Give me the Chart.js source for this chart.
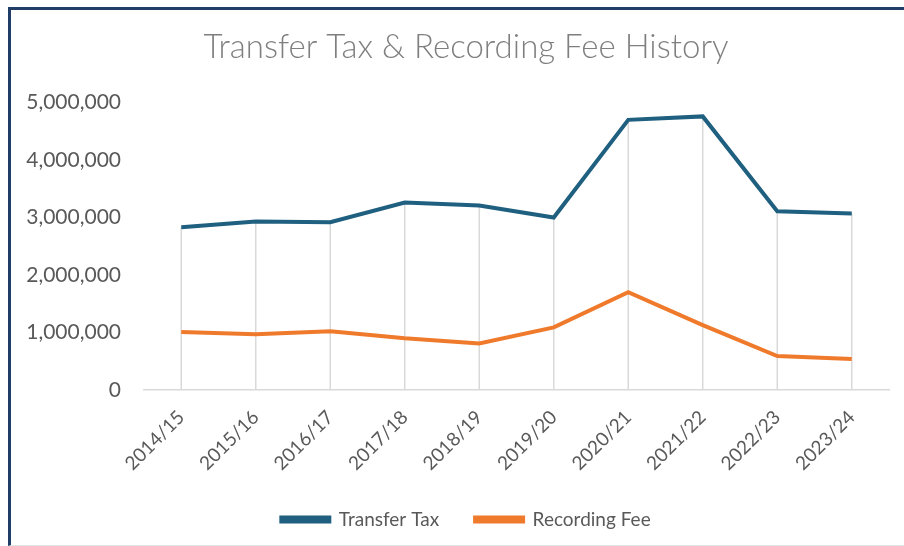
<!DOCTYPE html>
<html>
<head>
<meta charset="utf-8">
<script src="https://cdn.jsdelivr.net/npm/chart.js@4.4.0/dist/chart.umd.min.js"></script>
<style>
  html, body { margin: 0; padding: 0; background: #fff; overflow: hidden; }
  #frame {
    position: absolute; left: 8px; top: 7px;
    width: 896px; height: 539px;
    box-sizing: border-box;
    border-left: 3px solid #1f3d66;
    border-top: 3px solid #1f3d66;
    border-bottom: 1px solid #e4e4e4;
  }
  #wrap { position: absolute; left: 0; top: 0; width: 910px; height: 535px; }
</style>
</head>
<body>
<div id="frame"><div id="wrap"><canvas id="feeChart"></canvas></div></div>
<script>
const years = ['2014/15', '2015/16', '2016/17', '2017/18', '2018/19', '2019/20', '2020/21', '2021/22', '2022/23', '2023/24'];
const transferTax = [2830000, 2930000, 2920000, 3260000, 3210000, 3000000, 4700000, 4760000, 3110000, 3070000];
const recordingFee = [1010000, 970000, 1020000, 900000, 810000, 1090000, 1700000, 1130000, 590000, 540000];

const fontFamily = 'Lato, "Open Sans", sans-serif';
const textGray = '#595959';

// light vertical lines from the higher point of each year down to the axis
const dropLines = {
    id: 'dropLines',
    beforeDatasetsDraw(chart) {
        const ctx = chart.ctx;
        const x = chart.scales.x;
        const y = chart.scales.y;
        ctx.save();
        ctx.strokeStyle = '#d9d9d9';
        ctx.lineWidth = 1.5;
        years.forEach((yr, i) => {
            const top = Math.max(transferTax[i], recordingFee[i]);
            const px = x.getPixelForValue(i);
            ctx.beginPath();
            ctx.moveTo(px, y.getPixelForValue(top));
            ctx.lineTo(px, y.getPixelForValue(0));
            ctx.stroke();
        });
        ctx.restore();
    }
};

const ctx = document.getElementById('feeChart').getContext('2d');
const chart = new Chart(ctx, {
    type: 'line',
    data: {
        labels: years,
        datasets: [{
            label: 'Transfer Tax',
            data: transferTax,
            borderColor: '#1f5f7f',
            backgroundColor: '#1f5f7f',
            borderWidth: 4,
            pointRadius: 0,
            tension: 0
        }, {
            label: 'Recording Fee',
            data: recordingFee,
            borderColor: '#f07a2c',
            backgroundColor: '#f07a2c',
            borderWidth: 4,
            pointRadius: 0,
            tension: 0
        }]
    },
    options: {
        responsive: true,
        maintainAspectRatio: false,
        animation: false,
        layout: { padding: { left: 0, right: 0, top: 0, bottom: 6 } },
        plugins: {
            title: {
                display: true,
                text: 'Transfer Tax & Recording Fee History',
                color: '#7f7f7f',
                font: { family: fontFamily, size: 33, weight: '300' },
                padding: { top: 18, bottom: 35 }
            },
            legend: {
                position: 'bottom',
                labels: {
                    color: textGray,
                    font: { family: fontFamily, size: 19 },
                    boxWidth: 48,
                    boxHeight: 4,
                    padding: 36
                }
            },
            tooltip: { enabled: false }
        },
        scales: {
            x: {
                offset: true,
                grid: { display: false },
                border: { display: true, color: '#d9d9d9', width: 1.5 },
                ticks: {
                    color: textGray,
                    font: { family: fontFamily, size: 19 },
                    minRotation: 45,
                    maxRotation: 45,
                    padding: 8
                },
                afterFit(scale) { scale.height = 84; }
            },
            y: {
                min: 0,
                max: 5000000,
                grid: { display: false, drawTicks: false },
                border: { display: false },
                ticks: {
                    stepSize: 1000000,
                    color: textGray,
                    font: { family: fontFamily, size: 21 },
                    padding: 23,
                    callback: v => v.toLocaleString('en-US')
                },
                afterFit(scale) { scale.width = 133; }
            },
            // empty right-hand gutter, keeps title and legend centred like the original
            gutter: {
                type: 'linear',
                position: 'right',
                grid: { display: false, drawTicks: false },
                border: { display: false },
                ticks: { display: false },
                afterFit(scale) { scale.width = 32; }
            }
        }
    },
    plugins: [dropLines]
});
</script>
</body>
</html>
